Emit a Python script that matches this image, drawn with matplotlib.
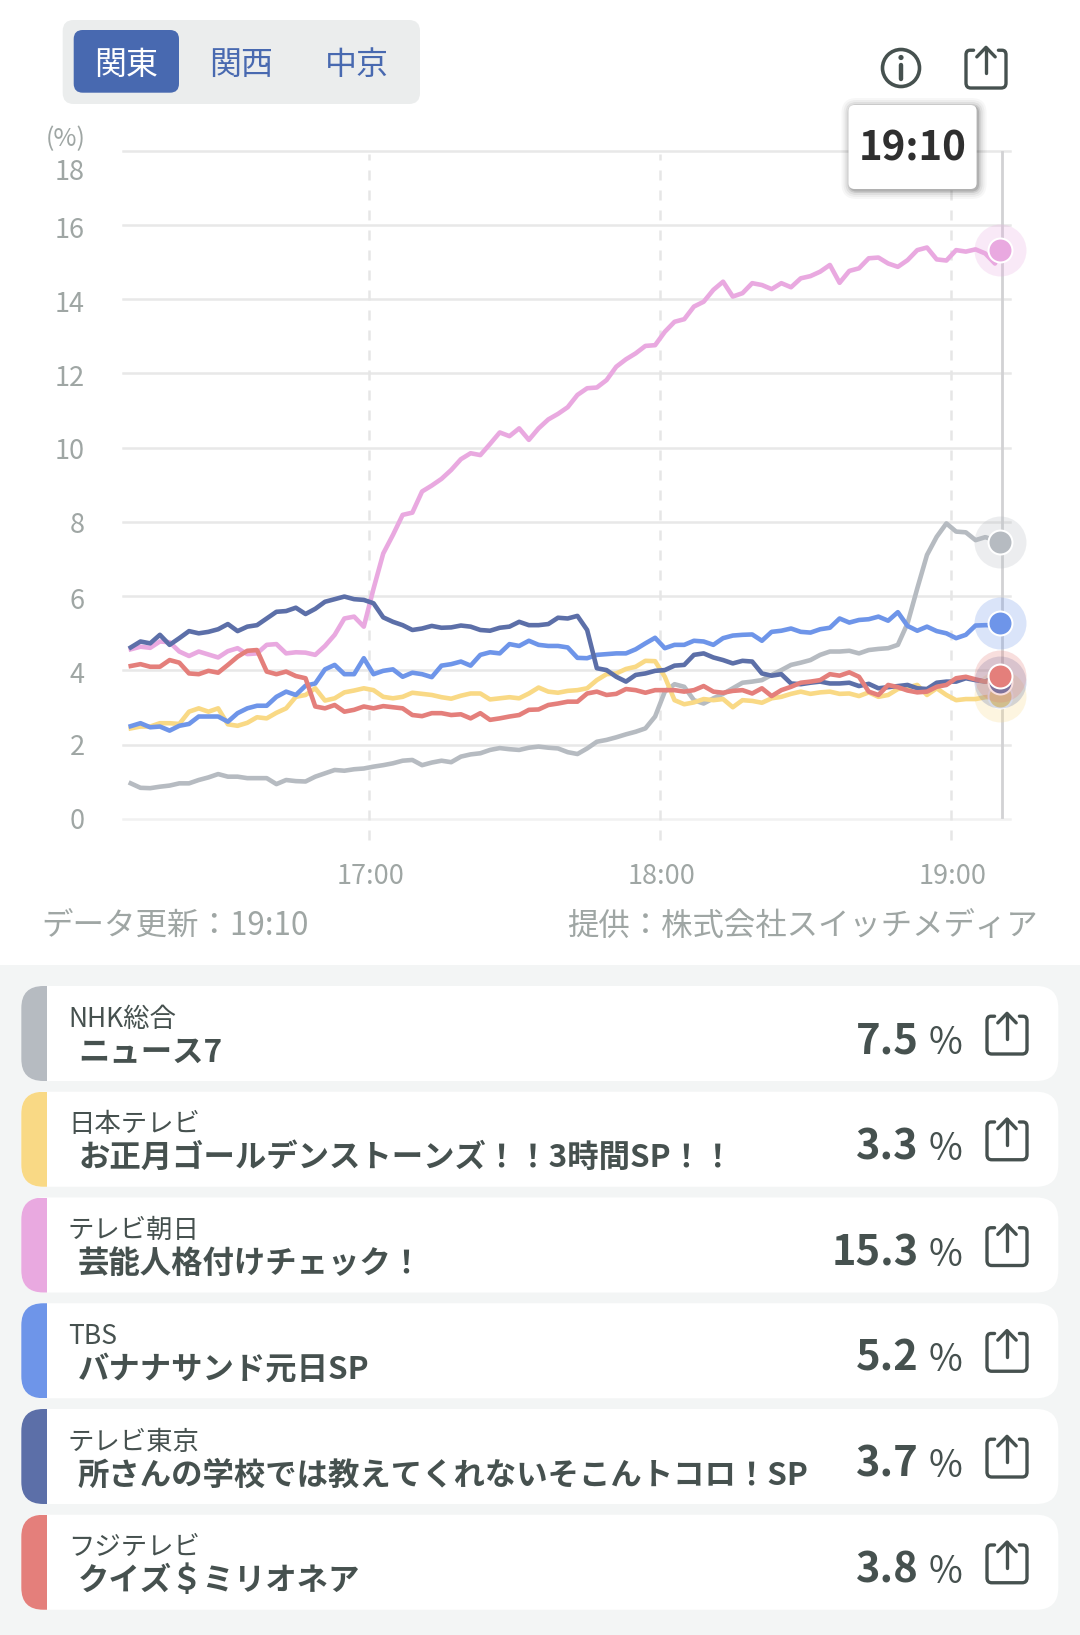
import matplotlib
matplotlib.use("Agg")
import matplotlib.pyplot as plt
from matplotlib.patches import FancyBboxPatch, Rectangle, Circle, PathPatch
from matplotlib.path import Path
from matplotlib.transforms import ScaledTranslation

plt.rcParams['font.family'] = ['Noto Sans CJK JP', 'DejaVu Sans']

# minutes after 17:00, one reading every 2 minutes up to 19:10
minutes = list(range(-49, 130, 2)) + [130]

nhk = [0.96, 0.84, 0.83, 0.87, 0.90, 0.96, 0.96, 1.05, 1.12, 1.21,
       1.14, 1.14, 1.10, 1.10, 1.10, 0.94, 1.05, 1.02, 1.01, 1.14,
       1.23, 1.32, 1.30, 1.34, 1.36, 1.41, 1.45, 1.50, 1.57, 1.59,
       1.45, 1.52, 1.57, 1.53, 1.68, 1.74, 1.77, 1.86, 1.91, 1.88,
       1.86, 1.92, 1.95, 1.92, 1.90, 1.80, 1.75, 1.90, 2.08,
       2.13, 2.20, 2.28, 2.35, 2.44, 2.76, 3.43, 3.63, 3.56, 3.20,
       3.11, 3.25, 3.37, 3.52, 3.67, 3.70, 3.74, 3.88, 4.01, 4.15,
       4.21, 4.28, 4.42, 4.51, 4.51, 4.53, 4.46, 4.55, 4.58, 4.60,
       4.69, 5.27, 6.21, 7.11, 7.60, 7.96, 7.74, 7.72, 7.51, 7.59,
       7.51, 7.46]
ntv = [2.44, 2.49, 2.49, 2.58, 2.58, 2.56, 2.89, 2.98, 2.89, 2.98,
       2.55, 2.51, 2.59, 2.74, 2.71, 2.86, 2.98, 3.29, 3.34, 3.52,
       3.19, 3.25, 3.41, 3.46, 3.52, 3.47, 3.29, 3.25, 3.29, 3.40,
       3.37, 3.34, 3.28, 3.24, 3.32, 3.38, 3.38, 3.22, 3.25, 3.28,
       3.25, 3.38, 3.54, 3.43, 3.40, 3.45, 3.47, 3.52, 3.74, 3.90,
       3.92, 4.04, 4.10, 4.26, 4.25, 3.83, 3.20, 3.09, 3.14, 3.23,
       3.20, 3.23, 3.01, 3.20, 3.18, 3.13, 3.25, 3.29, 3.37, 3.43,
       3.37, 3.41, 3.43, 3.37, 3.38, 3.31, 3.41, 3.29, 3.34, 3.50,
       3.54, 3.61, 3.34, 3.52, 3.34, 3.20, 3.23, 3.23, 3.28, 3.29,
       3.30]
ex = [4.57, 4.64, 4.61, 4.78, 4.76, 4.51, 4.39, 4.51, 4.43, 4.35,
      4.52, 4.60, 4.44, 4.46, 4.69, 4.71, 4.46, 4.49, 4.48, 4.42,
      4.66, 4.96, 5.40, 5.45, 5.18, 6.20, 7.15, 7.65, 8.19, 8.25,
      8.82, 8.98, 9.16, 9.40, 9.69, 9.85, 9.80, 10.10, 10.41, 10.31,
      10.52, 10.21, 10.52, 10.76, 10.91, 11.09, 11.42, 11.60, 11.62, 11.82,
      12.18, 12.38, 12.54, 12.74, 12.76, 13.12, 13.39, 13.46, 13.80, 13.93,
      14.25, 14.47, 14.07, 14.16, 14.43, 14.38, 14.27, 14.43, 14.32, 14.56,
      14.62, 14.74, 14.92, 14.44, 14.76, 14.83, 15.10, 15.12, 14.96, 14.87,
      15.05, 15.32, 15.39, 15.07, 15.04, 15.32, 15.28, 15.34, 15.23, 14.96,
      15.33]
tbs = [2.50, 2.58, 2.47, 2.49, 2.38, 2.51, 2.56, 2.76, 2.76, 2.76,
       2.62, 2.85, 2.98, 3.05, 3.05, 3.29, 3.43, 3.34, 3.59, 3.65,
       4.03, 4.15, 3.90, 3.90, 4.33, 3.90, 3.99, 4.03, 3.83, 3.94,
       3.90, 3.82, 4.13, 4.17, 4.24, 4.13, 4.42, 4.49, 4.46, 4.71,
       4.66, 4.80, 4.69, 4.66, 4.66, 4.62, 4.34, 4.33, 4.42,
       4.44, 4.46, 4.46, 4.57, 4.73, 4.88, 4.60, 4.69, 4.69, 4.80,
       4.78, 4.69, 4.87, 4.94, 4.96, 4.97, 4.80, 5.04, 5.07, 5.13,
       5.04, 5.02, 5.11, 5.15, 5.40, 5.29, 5.36, 5.38, 5.45, 5.34,
       5.57, 5.20, 5.07, 5.18, 5.06, 5.00, 4.87, 4.96, 5.21, 5.22,
       5.22, 5.27]
tx = [4.62, 4.78, 4.73, 4.96, 4.69, 4.87, 5.06, 5.00, 5.04, 5.11,
      5.25, 5.06, 5.18, 5.22, 5.40, 5.58, 5.60, 5.69, 5.52, 5.66,
      5.85, 5.92, 5.99, 5.92, 5.90, 5.81, 5.43, 5.31, 5.22, 5.09,
      5.13, 5.20, 5.15, 5.16, 5.21, 5.18, 5.09, 5.07, 5.15, 5.18,
      5.31, 5.22, 5.22, 5.25, 5.42, 5.40, 5.47, 5.09, 4.06,
      4.01, 3.83, 3.70, 3.88, 3.92, 3.99, 4.01, 4.13, 4.15, 4.42,
      4.46, 4.35, 4.28, 4.19, 4.26, 4.24, 3.92, 3.86, 3.90, 3.65,
      3.63, 3.67, 3.70, 3.65, 3.65, 3.67, 3.58, 3.64, 3.52, 3.55,
      3.58, 3.61, 3.52, 3.50, 3.67, 3.70, 3.70, 3.79, 3.74, 3.70,
      3.82, 3.70]
fuji = [4.12, 4.17, 4.10, 4.10, 4.28, 4.21, 3.92, 3.90, 3.99, 3.94,
        4.15, 4.37, 4.53, 4.55, 3.97, 3.90, 3.97, 3.85, 3.79, 3.03,
        2.98, 3.07, 2.89, 2.94, 3.03, 2.98, 3.04, 3.01, 2.98, 2.80,
        2.77, 2.85, 2.85, 2.80, 2.82, 2.71, 2.85, 2.67, 2.71, 2.76,
        2.80, 2.94, 2.95, 3.07, 3.11, 3.16, 3.16, 3.38, 3.43,
        3.34, 3.37, 3.50, 3.47, 3.40, 3.47, 3.47, 3.47, 3.43, 3.47,
        3.58, 3.43, 3.40, 3.45, 3.47, 3.38, 3.52, 3.31, 3.47, 3.56,
        3.67, 3.70, 3.74, 3.90, 3.86, 3.95, 3.83, 3.43, 3.34, 3.61,
        3.55, 3.46, 3.41, 3.43, 3.56, 3.61, 3.79, 3.83, 3.76, 3.70,
        3.72, 3.85]

series = [nhk, ntv, ex, tbs, tx, fuji]
colors = ['#b6bbc1', '#f9d985', '#e9a9e0', '#6e95e9', '#5c6fa8', '#e47f7b']
channels = ['NHK総合', '日本テレビ', 'テレビ朝日', 'TBS', 'テレビ東京', 'フジテレビ']
programs = ['ニュース7', 'お正月ゴールデンストーンズ！！3時間SP！！', '芸能人格付けチェック！',
            'バナナサンド元日SP', '所さんの学校では教えてくれないそこんトコロ！SP', 'クイズ＄ミリオネア']
ratings = ['7.5', '3.3', '15.3', '5.2', '3.7', '3.8']
y_ticks = [0, 2, 4, 6, 8, 10, 12, 14, 16, 18]
x_ticks = [0, 60, 120]
x_labels = ['17:00', '18:00', '19:00']
regions = ['関東', '関西', '中京']

W, H = 1080, 1635
INK = '#46514f'
GREY_TEXT = '#9fa6a4'

fig = plt.figure(figsize=(W / 100, H / 100), dpi=100)
fig.patch.set_facecolor('white')

# chart, placed by pixels
ax = fig.add_axes([123 / W, 1 - 819 / H, (1010 - 123) / W, (819 - 150.6) / H])
ax.patch.set_alpha(0)
ax.set_xlim(-50.6, 132.1)
ax.set_ylim(0, 18)
for s in ax.spines.values():
    s.set_visible(False)

for v in y_ticks:
    ax.axhline(v, color='#f1f1f1' if v == 0 else '#e8e8e8', lw=1.8, clip_on=False, zorder=1)
for t in x_ticks:
    ax.plot([t, t], [-0.57, 17.9], color='#e6e6e6', lw=1.8, dashes=(4, 4), clip_on=False, zorder=1)
ax.plot([130.4, 130.4], [0.05, 17.95], color='#d2d2d4', lw=2, zorder=2)

for vals, c in zip(series, colors):
    ax.plot(minutes, vals, color=c, lw=3.3, solid_joinstyle='round', zorder=3)
for vals, c in zip(series, colors):
    ax.scatter(minutes[-1], vals[-1], s=1400, color=c, alpha=0.25, lw=0, clip_on=False, zorder=4)
    ax.scatter(minutes[-1], vals[-1], s=350, color='white', lw=0, clip_on=False, zorder=4)
    ax.scatter(minutes[-1], vals[-1], s=250, color=c, lw=0, clip_on=False, zorder=4)

ax.set_yticks(y_ticks)
ax.set_xticks(x_ticks)
ax.set_xticklabels(x_labels)
ax.tick_params(axis='both', length=0, labelsize=19.5, labelcolor=GREY_TEXT)
ax.tick_params(axis='y', pad=27.5)
ax.tick_params(axis='x', pad=31.5)
y_shift = {18: -19, 16: -3, 14: -2, 12: -2, 10: -1, 8: -1, 6: -2, 4: -2, 0: 1}
for v, lab in zip(y_ticks, ax.get_yticklabels()):
    if v in y_shift:
        lab.set_transform(lab.get_transform() + ScaledTranslation(0, y_shift[v] / 100, fig.dpi_scale_trans))
for lab in ax.get_xticklabels():
    lab.set_transform(lab.get_transform() + ScaledTranslation(1.5 / 100, 0, fig.dpi_scale_trans))

# everything else in pixel coordinates
ui = fig.add_axes([0, 0, 1, 1], zorder=5)
ui.set_xlim(0, W)
ui.set_ylim(H, 0)
ui.axis('off')
ui.patch.set_alpha(0)


def round_box(x0, y0, x1, y1, r, color, **kw):
    p = FancyBboxPatch((x0, y0), x1 - x0, y1 - y0, boxstyle="round,pad=0,rounding_size=%g" % r,
                       fc=color, ec='none', **kw)
    ui.add_patch(p)
    return p


def share_icon(x0, y0, sx=40, sy=41.5):
    def pt(a, b):
        return (x0 + a * sx, y0 + b * sy)
    verts = [pt(0.19, 0.09), pt(0.1, 0.09), pt(0.0, 0.09), pt(0.0, 0.2), pt(0.0, 0.88), pt(0.0, 1.0), pt(0.12, 1.0),
             pt(0.88, 1.0), pt(1.0, 1.0), pt(1.0, 0.88), pt(1.0, 0.2), pt(1.0, 0.09), pt(0.9, 0.09), pt(0.81, 0.09)]
    codes = [Path.MOVETO, Path.LINETO, Path.CURVE3, Path.CURVE3, Path.LINETO, Path.CURVE3, Path.CURVE3,
             Path.LINETO, Path.CURVE3, Path.CURVE3, Path.LINETO, Path.CURVE3, Path.CURVE3, Path.LINETO]
    ui.add_patch(PathPatch(Path(verts, codes), fc='none', ec=INK, lw=2.4, capstyle='round'))
    ui.plot(*zip(pt(0.5, 0.65), pt(0.5, 0.03)), color=INK, lw=2.4, solid_capstyle='round')
    ui.plot(*zip(pt(0.27, 0.25), pt(0.5, 0.02), pt(0.73, 0.25)), color=INK, lw=2.4, solid_capstyle='round',
            solid_joinstyle='round')


# region switch
round_box(62.7, 20, 420, 104, 11, '#ebeded')
round_box(73.7, 30, 179, 92.7, 9, '#4869b0')
for lab, cx, c in zip(regions, [126, 241, 357], ['white', '#4869b0', '#4869b0']):
    ui.text(cx, 65, lab, color=c, fontsize=23, ha='center', va='center')

# info and share
ui.add_patch(Circle((901, 68), 18.5, fc='none', ec=INK, lw=2.6))
ui.add_patch(Circle((901, 57.5), 2.6, fc=INK, ec='none'))
ui.plot([901, 901], [65, 79], color=INK, lw=3.2, solid_capstyle='round')
share_icon(966, 46.5)

# tooltip
for grow, a in [(9, 0.03), (7, 0.04), (5, 0.06), (3, 0.09), (1.5, 0.12)]:
    round_box(848.5 - grow + 2, 105 - grow + 2, 976.6 + grow + 1, 189 + grow + 1, 6 + grow, 'black', alpha=a)
round_box(848.5, 105, 976.6, 189, 6, 'white')
ui.text(912.6, 149, '19:10', color='#2f2f2f', fontsize=29, fontweight='bold', ha='center', va='center')

ui.text(66, 139, '(%)', color=GREY_TEXT, fontsize=18, ha='center', va='center')
ui.text(41, 927, 'データ更新：19:10', color=GREY_TEXT, fontsize=22.7, ha='left', va='center')
ui.text(1038, 927, '提供：株式会社スイッチメディア', color=GREY_TEXT, fontsize=22.6, ha='right', va='center')

# list of channels
ui.add_patch(Rectangle((0, 965), W, H - 965, fc='#f3f5f5', ec='none'))
for i in range(6):
    top = 986 + i * 105.75
    bottom = top + 95
    round_box(21.3, top, 1058.3, bottom, 22, 'white')
    band = round_box(21.3, top, 80, bottom, 22, colors[i])
    band.set_clip_path(Rectangle((21.3, top), 25.7, 95, transform=ui.transData))
    ui.text(68, top + 33, channels[i], color=INK, fontsize=19, ha='left', va='center')
    ui.text(78, top + 66.5, programs[i], color=INK, fontsize=22.6, fontweight='bold', ha='left', va='center')
    ui.text(919, top + 55.5, ratings[i], color=INK, fontsize=30, fontweight='bold', ha='right', va='center')
    ui.text(929, top + 57.5, '%', color=INK, fontsize=26.5, ha='left', va='center')
    share_icon(987, top + 26.5)

fig.savefig("out.png", dpi=100)
